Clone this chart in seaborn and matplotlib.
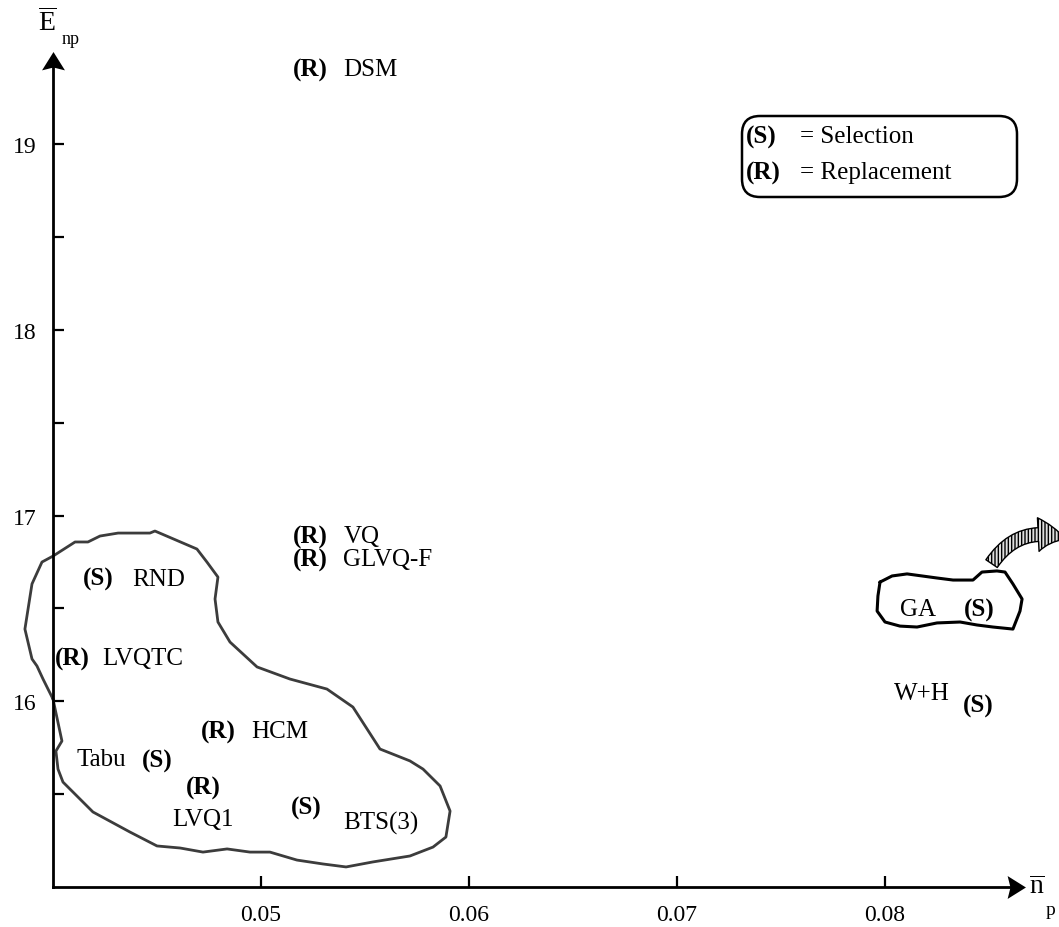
import matplotlib
matplotlib.use("Agg")
import matplotlib.pyplot as plt
from matplotlib.path import Path
from matplotlib.patches import FancyBboxPatch, FancyArrowPatch
from matplotlib.ticker import NullLocator
import seaborn as sns
import pandas as pd

# each method: position of its (S)/(R) tag in (n_p, E_np)
methods = ["DSM", "VQ", "GLVQ-F", "RND", "LVQTC", "HCM", "Tabu", "LVQ1", "BTS(3)", "GA", "W+H"]
tags = ["R", "R", "R", "S", "R", "R", "S", "R", "S", "S", "S"]
n_p = [0.05236, 0.05236, 0.05236, 0.04216, 0.04091, 0.04793, 0.04500, 0.04721, 0.05216, 0.08452, 0.08447]
E_np = [19.405, 16.890, 16.766, 16.659, 16.233, 15.840, 15.679, 15.538, 15.431, 16.497, 15.975]

x_ticks = [0.05, 0.06, 0.07, 0.08]
x_ticklabels = ["0.05", "0.06", "0.07", "0.08"]
y_ticks = [16, 17, 18, 19]
y_ticklabels = ["16", "17", "18", "19"]
y_minor = [15.5, 16.5, 17.5, 18.5]

# hand drawn outline around the clustered methods
blob_np = [0.04000, 0.04043, 0.04014, 0.04024, 0.04048, 0.04192, 0.04370, 0.04500, 0.04611, 0.04721,
           0.04837, 0.04947, 0.05043, 0.05173, 0.05298, 0.05409, 0.05538, 0.05716, 0.05827, 0.05889,
           0.05909, 0.05861, 0.05779, 0.05716, 0.05572, 0.05442, 0.05317, 0.05139, 0.04981, 0.04851,
           0.04793, 0.04779, 0.04793, 0.04740, 0.04692, 0.04490, 0.04466, 0.04313, 0.04226, 0.04168,
           0.04106, 0.04000, 0.03947, 0.03899, 0.03865, 0.03899, 0.03923, 0.03952, 0.04000]
blob_E = [16.012, 15.786, 15.732, 15.635, 15.565, 15.404, 15.296, 15.221, 15.210, 15.188,
          15.205, 15.188, 15.188, 15.145, 15.124, 15.108, 15.135, 15.167, 15.215, 15.269,
          15.409, 15.544, 15.635, 15.679, 15.743, 15.969, 16.066, 16.120, 16.185, 16.319,
          16.427, 16.551, 16.669, 16.750, 16.820, 16.917, 16.906, 16.906, 16.890, 16.858,
          16.858, 16.782, 16.750, 16.632, 16.389, 16.228, 16.190, 16.120, 16.012]

# outline around GA
ga_np = [0.07976, 0.08034, 0.08106, 0.08250, 0.08327, 0.08423, 0.08466, 0.08538, 0.08577, 0.08615,
         0.08659, 0.08649, 0.08615, 0.08519, 0.08442, 0.08361, 0.08250, 0.08154, 0.08072, 0.08000,
         0.07962, 0.07966, 0.07976]
ga_E = [16.642, 16.675, 16.686, 16.664, 16.653, 16.653, 16.696, 16.702, 16.696, 16.632,
        16.551, 16.486, 16.389, 16.400, 16.411, 16.427, 16.422, 16.400, 16.405, 16.427,
        16.486, 16.567, 16.642]

# name offsets from the tag (points) and alignment
name_layout = {
    "DSM": (24, 0, "left"), "VQ": (24, 0, "left"), "GLVQ-F": (24, 0, "left"),
    "RND": (25, 0, "left"), "LVQTC": (22, 0, "left"), "HCM": (24, 0, "left"),
    "Tabu": (-22, 1.5, "right"), "LVQ1": (0, -23, "center"), "BTS(3)": (27, -11, "left"),
    "GA": (-31, 0, "right"), "W+H": (-20, 9, "right"),
}

sns.set_style("white")
plt.rcParams["font.family"] = ["Liberation Serif", "DejaVu Serif"]
plt.rcParams["mathtext.fontset"] = "custom"
plt.rcParams["mathtext.rm"] = "Liberation Serif"
plt.rcParams["mathtext.it"] = "Liberation Serif:italic"
plt.rcParams["mathtext.bf"] = "Liberation Serif:bold"
plt.rcParams["hatch.linewidth"] = 1.0
plt.rcParams["text.color"] = "black"

fig = plt.figure(figsize=(10.59, 9.28), dpi=100)
ax = fig.add_axes([0, 0, 1, 1])
ax.set_xlim(0.037452, 0.088365)
ax.set_ylim(14.7846, 19.782)

outline = "#3c3c3c"
sns.lineplot(x=blob_np, y=blob_E, sort=False, estimator=None, color=outline, lw=2.0, ax=ax)
sns.lineplot(x=ga_np, y=ga_E, sort=False, estimator=None, color="black", lw=2.2, ax=ax)

# axes with arrow heads
for side in ["top", "right"]:
    ax.spines[side].set_visible(False)
ax.spines["left"].set_position(("data", 0.04))
ax.spines["bottom"].set_position(("data", 15.0))
ax.spines["left"].set_bounds(15.0, 19.44)
ax.spines["bottom"].set_bounds(0.04, 0.0862)
for side in ["left", "bottom"]:
    ax.spines[side].set_linewidth(2.0)
    ax.spines[side].set_color("black")

head_r = Path([(1, 0), (-0.6, 1), (-0.35, 0), (-0.6, -1), (1, 0)],
              [Path.MOVETO, Path.LINETO, Path.LINETO, Path.LINETO, Path.CLOSEPOLY])
head_u = Path([(0, 1), (1, -0.6), (0, -0.35), (-1, -0.6), (0, 1)],
              [Path.MOVETO, Path.LINETO, Path.LINETO, Path.LINETO, Path.CLOSEPOLY])
ax.plot([0.086178], [15.0], marker=head_r, ms=16.5, mew=0, color="black", clip_on=False)
ax.plot([0.04], [19.44], marker=head_u, ms=16.5, mew=0, color="black", clip_on=False)

ax.set_xticks(x_ticks)
ax.set_xticklabels(x_ticklabels)
ax.set_yticks(y_ticks)
ax.set_yticklabels(y_ticklabels)
ax.set_yticks(y_minor, minor=True)
ax.xaxis.set_minor_locator(NullLocator())
ax.tick_params(which="both", direction="in", length=8, width=1.6, color="black",
               labelcolor="black", labelsize=17, pad=12, bottom=True, left=True)
ax.tick_params(which="minor", labelleft=False)

# tags and method names
for name, tag, x, y in zip(methods, tags, n_p, E_np):
    ax.text(x, y, f"({tag})", ha="center", va="center", fontsize=18, fontweight="bold")
    dx, dy, ha = name_layout[name]
    ax.annotate(name, (x, y), xytext=(dx, dy), textcoords="offset points",
                ha=ha, va="center", fontsize=18)

# hatched arrow leaving the GA region
arrow = FancyArrowPatch((0.08505, 16.729), (0.0888, 16.87),
                        connectionstyle="arc3,rad=-0.4",
                        arrowstyle="simple,head_length=0.9,head_width=1.1,tail_width=0.45",
                        mutation_scale=22, facecolor="#e0e0e0", edgecolor="black",
                        hatch="|||||", lw=1.0, clip_on=False)
ax.add_patch(arrow)

# legend box
inch = fig.dpi_scale_trans
box = FancyBboxPatch((7.42, 7.30), 2.75, 0.81, boxstyle="round,pad=0,rounding_size=0.18",
                     transform=inch, facecolor="white", edgecolor="black", lw=1.8)
fig.patches.append(box)
fig.text(7.46, 7.91, "(S)", transform=inch, ha="left", va="center", fontsize=18, fontweight="bold")
fig.text(8.00, 7.91, "= Selection", transform=inch, ha="left", va="center", fontsize=18)
fig.text(7.46, 7.55, "(R)", transform=inch, ha="left", va="center", fontsize=18, fontweight="bold")
fig.text(8.00, 7.55, "= Replacement", transform=inch, ha="left", va="center", fontsize=18)

# axis labels
fig.text(0.47, 9.055, r"$\overline{\mathrm{E}}$", transform=inch, ha="center", va="center", fontsize=20)
fig.text(0.71, 8.88, "np", transform=inch, ha="center", va="center", fontsize=13)
fig.text(10.37, 0.40, r"$\overline{\mathrm{n}}$", transform=inch, ha="center", va="center", fontsize=20)
fig.text(10.46, 0.17, "p", transform=inch, ha="left", va="center", fontsize=14)

fig.savefig("out.png", dpi=100)
